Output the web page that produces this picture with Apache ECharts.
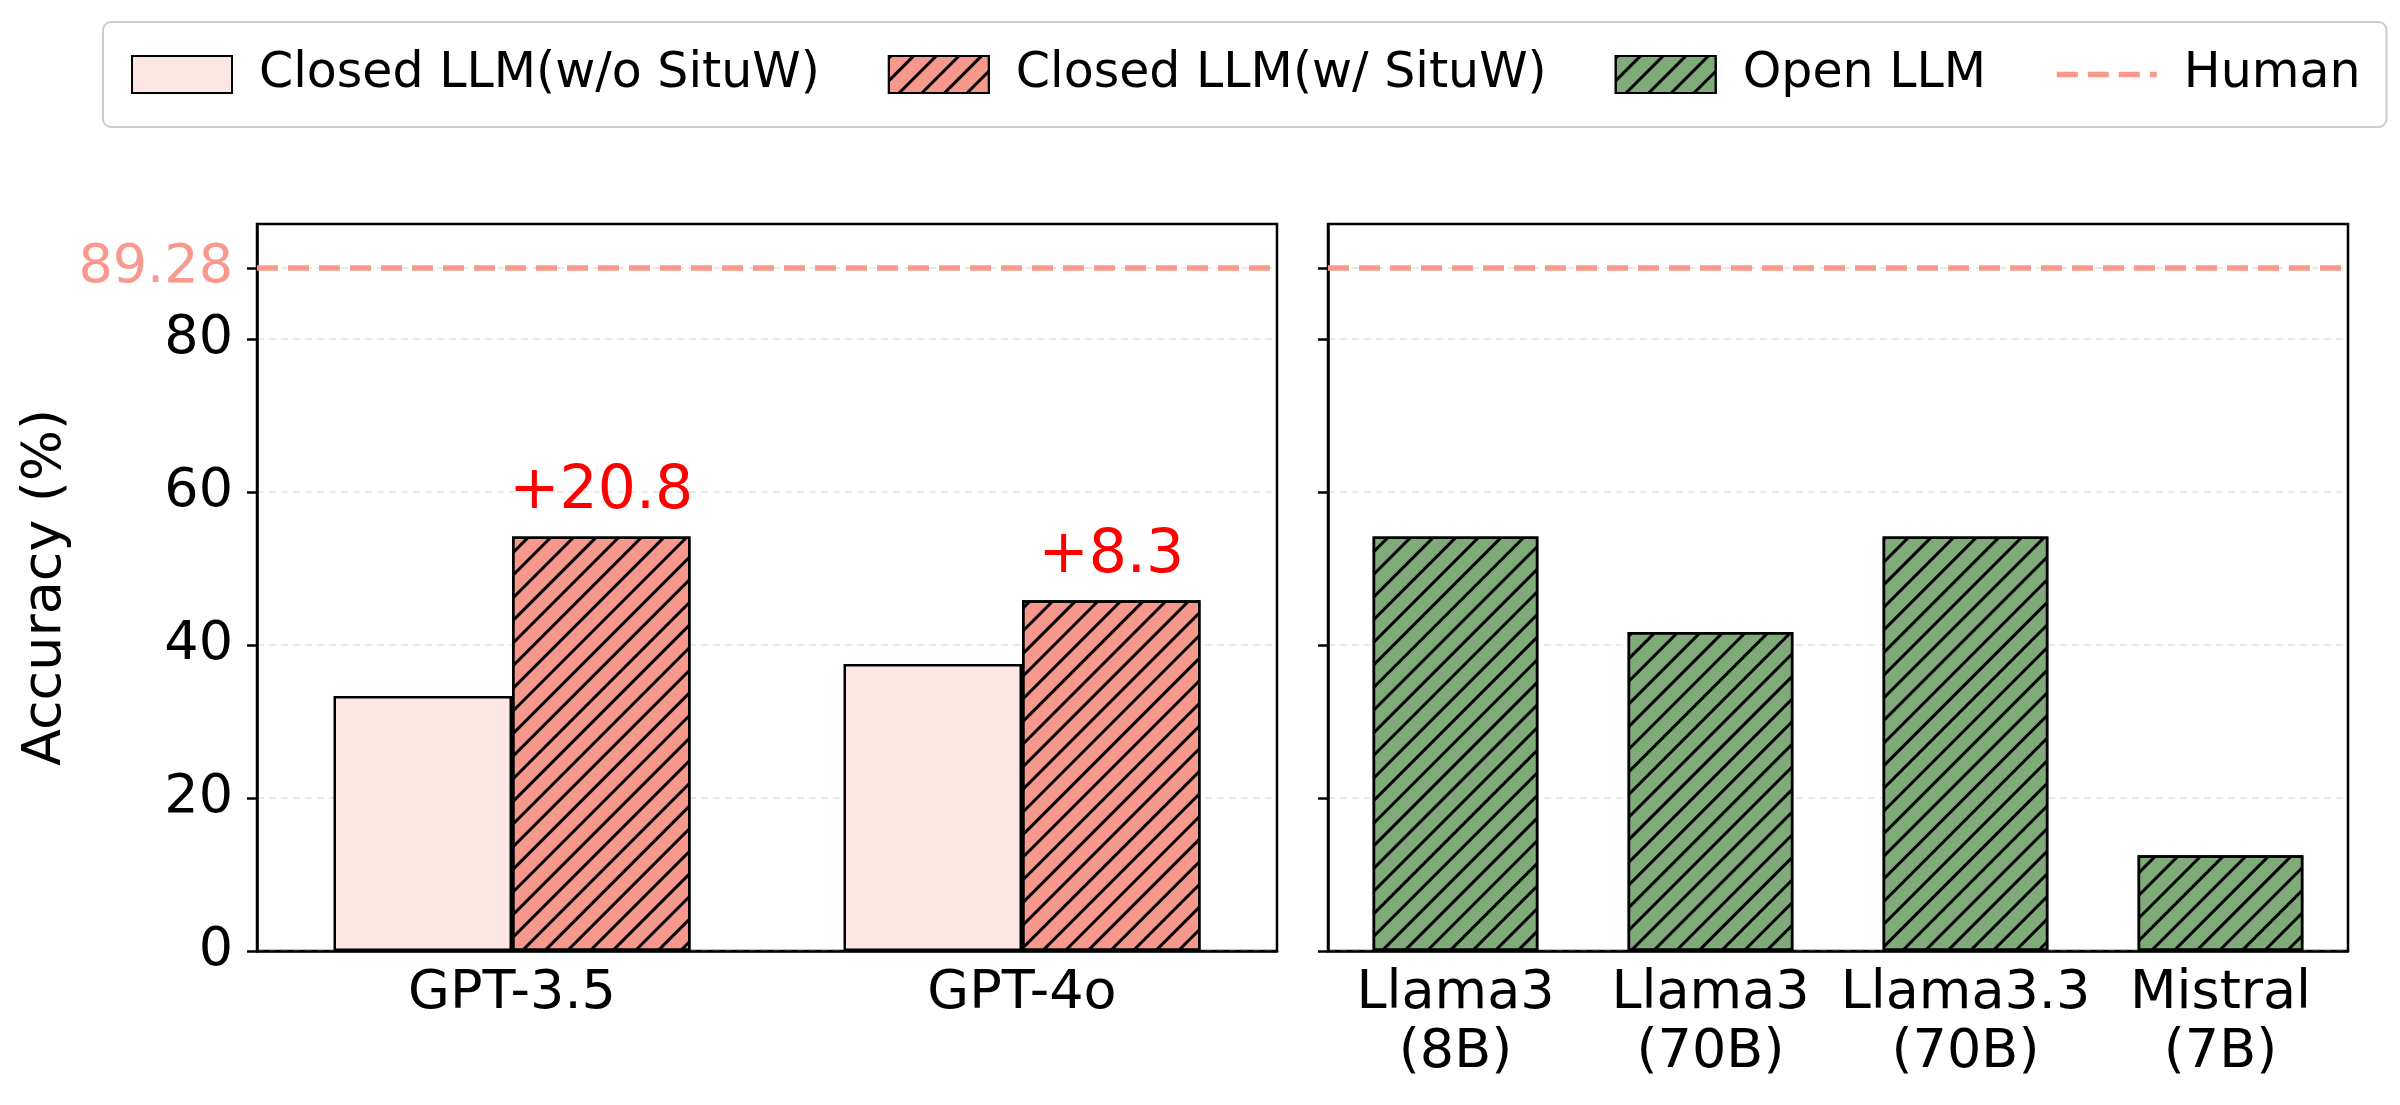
<!DOCTYPE html>
<html>
<head>
<meta charset="utf-8">
<script src="https://cdn.jsdelivr.net/npm/echarts@6/dist/echarts.min.js"></script>
<style>
  html, body { margin: 0; padding: 0; background: #fff; }
  #main { width: 2400px; height: 1105px; }
</style>
</head>
<body>
<div id="main"></div>
<script>
// data
var closedModels = ['GPT-3.5', 'GPT-4o'];
var closedWithout = [33.33, 37.5];
var closedWith = [54.17, 45.83];
var openModels = ['Llama3\n(8B)', 'Llama3\n(70B)', 'Llama3.3\n(70B)', 'Mistral\n(7B)'];
var openScores = [54.17, 41.67, 54.17, 12.5];
var humanScore = 89.28;
var yTicks = [0, 20, 40, 60, 80, humanScore];

var font = 'DejaVu Sans';
var salmon = '#F9998E';

var chartDom = document.getElementById('main');
var myChart = echarts.init(chartDom);

// /// hatch like matplotlib
var hatch = {
  symbol: 'rect',
  symbolSize: 1,
  color: '#000',
  dashArrayX: [1, 0],
  dashArrayY: [3, 13],
  rotation: -Math.PI / 4
};

function xAxisFor(idx, cats) {
  return {
    gridIndex: idx,
    type: 'category',
    data: cats,
    axisLine: { lineStyle: { color: '#000', width: 2.5 } },
    axisTick: { alignWithLabel: true, length: 10, lineStyle: { color: '#000', width: 2.5 } },
    axisLabel: { interval: 0, color: '#000', fontSize: 54, fontFamily: font, margin: 13, lineHeight: 59 }
  };
}

function yAxisFor(idx, showLabels) {
  return {
    gridIndex: idx,
    type: 'value',
    min: 0,
    max: 95,
    name: showLabels ? 'Accuracy (%)' : '',
    nameLocation: 'middle',
    nameGap: 184,
    nameTextStyle: { color: '#000', fontSize: 54, fontFamily: font },
    axisLine: { show: true, lineStyle: { color: '#000', width: 2.5 } },
    axisTick: { show: true, length: 10, customValues: yTicks, lineStyle: { color: '#000', width: 2.5 } },
    axisLabel: {
      show: showLabels,
      customValues: yTicks,
      margin: 24,
      color: '#000',
      fontSize: 54,
      fontFamily: font,
      formatter: function (v) {
        return v === humanScore ? '{h|' + v + '}' : String(v);
      },
      rich: { h: { color: salmon, fontSize: 54, fontFamily: font } }
    },
    splitLine: { show: true, lineStyle: { color: '#e2e2e2', width: 1.5, type: [7, 5] } }
  };
}

function humanSeries(idx) {
  return {
    name: 'Human',
    type: 'line',
    xAxisIndex: idx,
    yAxisIndex: idx,
    data: [],
    symbol: 'none',
    itemStyle: { color: salmon },
    lineStyle: { color: salmon, width: 5.5, type: [21, 10] },
    markLine: {
      silent: true,
      symbol: ['none', 'none'],
      label: { show: false },
      lineStyle: { color: salmon, width: 5.5, type: [21, 10] },
      data: [{ yAxis: humanScore }]
    },
    z: 5
  };
}

var option = {
  backgroundColor: '#fff',
  animation: false,
  legend: {
    left: 103,
    top: 22,
    width: 2290,
    padding: [28, 26, 28, 28],
    itemGap: 68,
    itemWidth: 100,
    itemHeight: 37,
    borderColor: '#cccccc',
    borderWidth: 2,
    borderRadius: 8,
    backgroundColor: '#fff',
    textStyle: { color: '#000', fontSize: 49, fontFamily: font, padding: [0, 0, 0, 22] },
    lineStyle: { width: 5.5, type: [21, 10] },
    data: [
      { name: 'Closed LLM(w/o SituW)', icon: 'rect' },
      { name: 'Closed LLM(w/ SituW)', icon: 'rect' },
      { name: 'Open LLM', icon: 'rect' },
      { name: 'Human', itemStyle: { color: 'rgba(0,0,0,0)', borderWidth: 0 } }
    ]
  },
  grid: [
    { left: 257, top: 224, width: 1020, height: 727, show: true, borderColor: '#000', borderWidth: 2.5 },
    { left: 1328, top: 224, width: 1020, height: 727, show: true, borderColor: '#000', borderWidth: 2.5 }
  ],
  xAxis: [xAxisFor(0, closedModels), xAxisFor(1, openModels)],
  yAxis: [yAxisFor(0, true), yAxisFor(1, false)],
  series: [
    {
      name: 'Closed LLM(w/o SituW)',
      type: 'bar',
      xAxisIndex: 0,
      yAxisIndex: 0,
      data: closedWithout,
      barWidth: '35%',
      barGap: '0%',
      itemStyle: { color: '#FCE7E5', borderColor: '#000', borderWidth: 2.5 }
    },
    {
      name: 'Closed LLM(w/ SituW)',
      type: 'bar',
      xAxisIndex: 0,
      yAxisIndex: 0,
      data: closedWith,
      barWidth: '35%',
      barGap: '0%',
      itemStyle: { color: '#F6988C', borderColor: '#000', borderWidth: 2.5, decal: hatch },
      label: {
        show: true,
        position: 'top',
        distance: 14,
        color: '#FF0000',
        fontSize: 60,
        fontFamily: font,
        formatter: function (p) {
          return '+' + (closedWith[p.dataIndex] - closedWithout[p.dataIndex]).toFixed(1);
        }
      }
    },
    {
      name: 'Open LLM',
      type: 'bar',
      xAxisIndex: 1,
      yAxisIndex: 1,
      data: openScores,
      barWidth: '65%',
      itemStyle: { color: '#80AA7A', borderColor: '#000', borderWidth: 2.5, decal: hatch }
    },
    humanSeries(0),
    humanSeries(1)
  ]
};

option && myChart.setOption(option);
</script>
</body>
</html>
